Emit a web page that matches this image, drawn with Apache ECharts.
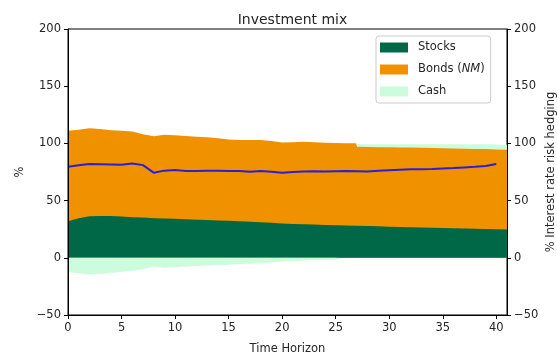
<!DOCTYPE html>
<html>
<head>
<meta charset="utf-8">
<script src="https://cdn.jsdelivr.net/npm/echarts@6/dist/echarts.min.js"></script>
<style>
  html, body { margin: 0; padding: 0; background: #fff; }
  #chart { width: 557px; height: 358px; }
</style>
</head>
<body>
<div id="chart"></div>
<script>
// Time horizon (years) for the allocation areas
const years = [0, 1, 2, 3, 4, 5, 6, 7, 8, 9, 10, 11, 12, 13, 14, 15, 16, 17, 18, 19, 20,
  21, 22, 23, 24, 25, 26, 26.9, 27, 28, 29, 30, 31, 32, 33, 34, 35, 36, 37, 38, 39, 40, 41];

// Allocation weights in %
const stocks = [32, 34.5, 36.3, 36.5, 36.6, 36, 35.5, 35.2, 34.6, 34.3, 34.2, 33.6, 33.3, 33, 32.7,
  32.4, 32, 31.5, 31, 30.6, 30, 29.6, 29.3, 29, 28.7, 28.4, 28.2, 28, 28, 27.7, 27.5, 27.2, 27,
  26.7, 26.5, 26.3, 26, 25.8, 25.6, 25.4, 25.2, 25, 24.8];
const bonds = [79, 77.5, 77, 76, 75, 75, 74.9, 72.8, 71.7, 73.2, 73, 72.9, 72.5, 72.3, 71.8,
  71.1, 71, 71.5, 71.9, 71.4, 70.8, 71.4, 72.1, 71.9, 71.8, 71.9, 72, 72.1, 69, 69.1, 69.2, 69.4,
  69.5, 69.7, 69.7, 69.7, 69.8, 69.8, 69.8, 69.8, 69.8, 69.7, 69.6];
const cash = [-12.5, -13.6, -14.6, -14, -13.2, -12.3, -11.6, -10, -7.6, -8.6, -8.2, -7.6, -7.2,
  -6.8, -6.3, -6, -5.5, -5, -4.5, -3.8, -3.1, -2.7, -2.3, -2, -1.7, -1.5, -1.2, 0, 2.4, 2.5, 2.6,
  2.7, 2.8, 2.9, 3, 3.2, 3.4, 3.6, 3.8, 4, 4.2, 4.3, 4.4];

// Interest rate risk hedging ratio in %
const hedgeYears = [0, 1, 2, 3, 4, 5, 6, 7, 8, 9, 10, 11, 12, 13, 14, 15, 16, 17, 18, 19, 20,
  21, 22, 23, 24, 25, 26, 27, 28, 29, 30, 31, 32, 33, 34, 35, 36, 37, 38, 39, 40];
const hedge = [79.6, 81, 81.9, 81.8, 81.6, 81.3, 82.5, 81, 74.4, 76.2, 76.7, 75.8, 75.8, 76, 76,
  75.8, 75.8, 75.2, 75.8, 75.2, 74.4, 74.9, 75.4, 75.6, 75.5, 75.7, 75.8, 75.6, 75.4, 76, 76.5,
  77, 77.3, 77.4, 77.6, 78, 78.4, 79, 79.5, 80.3, 82];

// Axis ticks
const xTicks = [0, 5, 10, 15, 20, 25, 30, 35, 40];
const yTicks = [-50, 0, 50, 100, 150, 200];

const COLORS = { stocks: '#006846', bonds: '#f09100', cash: '#ccfcdb', hedge: '#2b1fd8' };
const FONT = 'DejaVu Sans';
const TEXT = '#262626';

// Cumulative levels: stocks at the bottom, bonds on top of stocks,
// positive cash on top of bonds, negative cash below zero.
const bondsTop = stocks.map((s, i) => s + bonds[i]);
const cashTop = bondsTop.map((t, i) => (cash[i] > 0 ? t + cash[i] : null));
const cashBelow = cash.map(v => (v < 0 ? v : null));

const pairs = (xs, ys) => xs.map((x, i) => [x, ys[i]]);

// Each band is filled down to zero; later series paint over earlier ones
const areaSeries = (name, data, color, z) => ({
  name, type: 'line', data, z,
  showSymbol: false, symbol: 'none', silent: true,
  lineStyle: { width: 0, color }, itemStyle: { color },
  areaStyle: { color, opacity: 1, origin: 0 },
  emphasis: { disabled: true }
});

const minusSign = v => String(v).replace('-', '\u2212');

const yAxisBase = (position, name, gap) => ({
  type: 'value', position, min: yTicks[0], max: yTicks[yTicks.length - 1], interval: 50,
  name, nameLocation: 'middle', nameRotate: 90, nameGap: gap, nameMoveOverlap: false,
  nameTextStyle: { fontFamily: FONT, fontSize: 11.5, color: TEXT },
  axisLine: { show: true, onZero: false, lineStyle: { color: '#000', width: 1 } },
  axisTick: { show: true, inside: false, length: 4, lineStyle: { color: '#000' } },
  axisLabel: { fontFamily: FONT, fontSize: 11.5, color: TEXT, margin: 7, formatter: minusSign },
  splitLine: { show: false },
  z: 10
});

const chart = echarts.init(document.getElementById('chart'), null, { renderer: 'canvas' });
chart.setOption({
  animation: false,
  backgroundColor: '#fff',
  title: {
    text: 'Investment mix', left: 287.5, top: 8, textAlign: 'center',
    textStyle: { fontFamily: FONT, fontSize: 14, fontWeight: 'normal', color: TEXT }
  },
  grid: {
    left: 68, right: 50, top: 29, bottom: 43,
    outerBoundsMode: 'none', containLabel: false,
    show: true, borderColor: '#000', borderWidth: 1, backgroundColor: 'transparent'
  },
  legend: {
    data: ['Stocks', 'Bonds (NM)', 'Cash'],
    orient: 'vertical', left: 376, top: 36,
    itemWidth: 28, itemHeight: 10, itemGap: 9, icon: 'rect',
    padding: [5, 6, 5, 4],
    backgroundColor: 'rgba(255,255,255,0.85)', borderColor: '#cccccc', borderWidth: 1, borderRadius: 3,
    selectedMode: false,
    formatter: n => (n === 'Bonds (NM)' ? 'Bonds ({i|NM})' : n),
    textStyle: {
      fontFamily: FONT, fontSize: 11.5, color: TEXT, padding: [0, 0, 0, 5], lineHeight: 13,
      rich: { i: { fontFamily: FONT, fontSize: 11.5, fontStyle: 'italic', color: TEXT } }
    }
  },
  xAxis: {
    type: 'value', min: 0, max: 41,
    name: 'Time Horizon', nameLocation: 'middle', nameGap: 28, nameMoveOverlap: false,
    nameTextStyle: { fontFamily: FONT, fontSize: 11.5, color: TEXT },
    axisLine: { show: true, onZero: false, lineStyle: { color: '#000', width: 1 } },
    axisTick: { show: true, inside: false, length: 4, customValues: xTicks, lineStyle: { color: '#000' } },
    axisLabel: { fontFamily: FONT, fontSize: 11.5, color: TEXT, margin: 7, customValues: xTicks },
    splitLine: { show: false },
    z: 10
  },
  yAxis: [
    yAxisBase('left', '%', 42),
    yAxisBase('right', '% Interest rate risk hedging', 38)
  ],
  series: [
    areaSeries('Cash', pairs(years, cashTop), COLORS.cash, 1),
    areaSeries('Bonds (NM)', pairs(years, bondsTop), COLORS.bonds, 2),
    areaSeries('Stocks', pairs(years, stocks), COLORS.stocks, 3),
    areaSeries('Cash', pairs(years, cashBelow), COLORS.cash, 3),
    {
      name: 'Hedging', type: 'line', yAxisIndex: 1, z: 5,
      data: pairs(hedgeYears, hedge),
      showSymbol: false, symbol: 'none', silent: true,
      lineStyle: { color: COLORS.hedge, width: 2 },
      emphasis: { disabled: true }
    }
  ]
});
</script>
</body>
</html>
